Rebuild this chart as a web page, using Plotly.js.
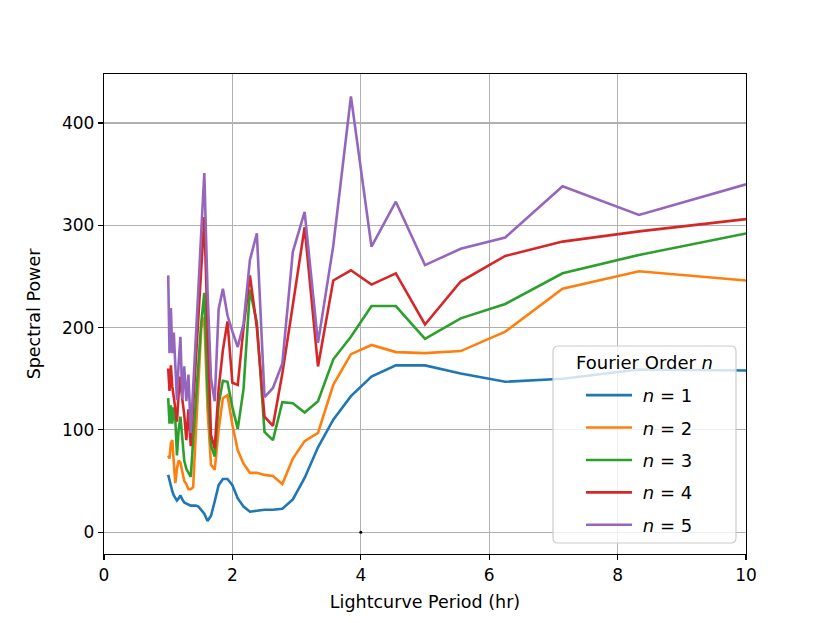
<!DOCTYPE html>
<html>
<head>
<meta charset="utf-8">
<script src="https://cdn.plot.ly/plotly-3.0.1.min.js"></script>
<style>html,body{margin:0;padding:0;background:#fff;}#chart{width:830px;height:623px;}</style>
</head>
<body>
<div id="chart"></div>
<script>
// Lightcurve periods (hr)
const periods = [1.0, 1.0204, 1.0417, 1.0638, 1.087, 1.1111, 1.1364, 1.1628, 1.1905, 1.2195,
  1.25, 1.2821, 1.3158, 1.3514, 1.3889, 1.4286, 1.4706, 1.5152, 1.5625, 1.6129,
  1.6667, 1.7241, 1.7857, 1.8519, 1.9231, 2.0, 2.0833, 2.1739, 2.2727, 2.381,
  2.5, 2.6316, 2.7778, 2.9412, 3.125, 3.3333, 3.5714, 3.8462, 4.1667, 4.5455,
  5.0, 5.5556, 6.25, 7.1429, 8.3333, 10.0];

const power_n1 = [56, 50, 45, 40, 36, 33, 31, 33, 36, 32,
  29, 28, 27, 26, 26, 26, 25, 22, 18, 11,
  16, 30, 46, 52, 52, 46, 33, 25, 20, 21,
  22, 22, 23, 32, 53, 83, 110, 133, 152, 163,
  163, 155, 147, 150, 159, 158];

const power_n2 = [75, 72, 87, 90, 68, 48, 62, 70, 68, 60,
  50, 47, 42, 42, 44, 95, 150, 200, 210, 120,
  66, 61, 100, 131, 134, 105, 80, 67, 58, 58,
  56, 55, 47, 72, 89, 97, 144, 174, 183, 176,
  175, 177, 196, 238, 255, 246];

const power_n3 = [131, 106, 124, 106, 122, 110, 75, 100, 113, 90,
  70, 62, 58, 54, 90, 125, 165, 205, 234, 140,
  85, 74, 125, 148, 147, 122, 101, 140, 237, 205,
  98, 90, 127, 126, 117, 128, 169, 191, 221, 221,
  189, 209, 223, 253, 271, 292];

const power_n4 = [160, 138, 163, 142, 132, 120, 108, 135, 152, 130,
  115, 90, 120, 84, 125, 167, 213, 262, 308, 200,
  95, 82, 140, 178, 206, 146, 144, 200, 251, 200,
  113, 104, 155, 222, 298, 162, 246, 256, 242, 253,
  203, 245, 270, 284, 294, 306];

const power_n5 = [251, 175, 219, 175, 195, 160, 129, 165, 191, 130,
  162, 128, 154, 97, 139, 187, 238, 294, 351, 235,
  150, 128, 218, 238, 212, 196, 181, 204, 266, 292,
  132, 141, 165, 274, 313, 185, 280, 426, 279, 323,
  261, 277, 288, 338, 310, 340];

const markerX = [4];
const markerY = [0];

const legendTitle = 'Fourier Order <i>n</i>';
const seriesNames = [' <i>n</i> = 1', ' <i>n</i> = 2', ' <i>n</i> = 3', ' <i>n</i> = 4', ' <i>n</i> = 5'];
const seriesColors = ['#1f77b4', '#ff7f0e', '#2ca02c', '#d62728', '#9467bd'];
const seriesData = [power_n1, power_n2, power_n3, power_n4, power_n5];

const traces = seriesData.map((ys, i) => ({
  x: periods, y: ys, type: 'scatter', mode: 'lines',
  name: seriesNames[i], legendgroup: 'g' + i,
  line: {color: seriesColors[i], width: 2.6}
}));
traces.push({
  x: markerX, y: markerY, type: 'scatter', mode: 'markers',
  marker: {color: '#000', size: 3}, showlegend: false, hoverinfo: 'skip'
});

// legend frame (paper coords), rounded corners
const bx0 = 0.6994, bx1 = 0.9844, by0 = 0.0229, by1 = 0.4333;
const rx = 0.008, ry = 0.011;
const framePath = `M ${bx0+rx},${by0} L ${bx1-rx},${by0} Q ${bx1},${by0} ${bx1},${by0+ry} ` +
  `L ${bx1},${by1-ry} Q ${bx1},${by1} ${bx1-rx},${by1} L ${bx0+rx},${by1} Q ${bx0},${by1} ${bx0},${by1-ry} ` +
  `L ${bx0},${by0+ry} Q ${bx0},${by0} ${bx0+rx},${by0} Z`;

const fontFam = 'DejaVu Sans, sans-serif';
const layout = {
  width: 830, height: 623,
  margin: {l: 104, r: 84, t: 74, b: 69},
  paper_bgcolor: '#fff', plot_bgcolor: '#fff',
  font: {family: fontFam, size: 17, color: '#000'},
  showlegend: true,
  xaxis: {
    range: [0, 10], tickvals: [0, 2, 4, 6, 8, 10], ticktext: ['0', '2', '4', '6', '8', '10'],
    showgrid: true, gridcolor: '#b0b0b0', gridwidth: 1.2,
    zeroline: false, showline: true, linecolor: '#000', linewidth: 1.2, mirror: true,
    ticks: 'outside', ticklen: 5, tickcolor: '#000', tickwidth: 1.2,
    tickfont: {family: fontFam, size: 17},
    title: {text: 'Lightcurve Period (hr)', font: {family: fontFam, size: 17.5}, standoff: 12}
  },
  yaxis: {
    range: [-21.3, 447.8], tickvals: [0, 100, 200, 300, 400],
    showgrid: true, gridcolor: '#b0b0b0', gridwidth: 1.2,
    zeroline: false, showline: true, linecolor: '#000', linewidth: 1.2, mirror: true,
    ticks: 'outside', ticklen: 5, tickcolor: '#000', tickwidth: 1.2,
    tickfont: {family: fontFam, size: 17},
    title: {text: 'Spectral Power', font: {family: fontFam, size: 17.5}, standoff: 16}
  },
  shapes: [{
    type: 'path', xref: 'paper', yref: 'paper', path: framePath,
    fillcolor: 'rgba(255,255,255,0.8)', line: {color: '#cccccc', width: 1.2}, layer: 'above'
  }],
  annotations: [{
    xref: 'paper', yref: 'paper', x: 0.8419, y: 0.40, xanchor: 'center', yanchor: 'middle',
    text: legendTitle, showarrow: false, font: {family: fontFam, size: 18, color: '#000'}
  }],
  legend: {
    x: 0.7430, y: 0.023, xanchor: 'left', yanchor: 'bottom',
    bgcolor: 'rgba(0,0,0,0)', borderwidth: 0,
    font: {family: fontFam, size: 18}, tracegroupgap: 6, itemwidth: 46
  }
};

Plotly.newPlot('chart', traces, layout, {displayModeBar: false, staticPlot: true});
</script>
</body>
</html>
